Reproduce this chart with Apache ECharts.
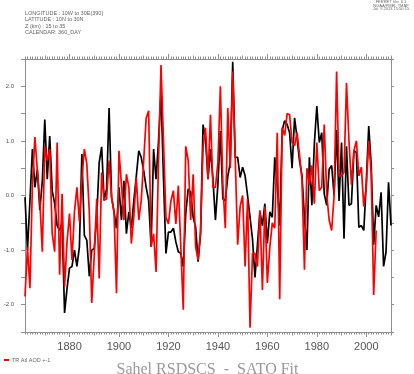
<!DOCTYPE html>
<html><head><meta charset="utf-8">
<script src="https://cdn.jsdelivr.net/npm/echarts@6/dist/echarts.min.js"></script>
<style>html,body{margin:0;padding:0;background:#fff}#c{width:414px;height:374px}</style>
</head><body><div id="c"></div>
<script>
const startYear = 1862;
const endYear = 2010;
// black line (Sahel RSDSCS), one value per year from 1862
const rsdscs = [
 -0.03,-1.0,-0.1,0.85,0.15,0.48,-0.27,0.27,1.39,0.3,
 1.09,0.09,-0.15,-0.55,-0.64,-0.5,-2.15,-1.7,-1.33,-1.3,
 -1.0,-1.3,-0.94,0.76,-0.73,-0.82,-1.48,-1.0,-0.97,-0.4,
 0.6,0.89,-0.09,0.12,1.6,-0.03,-0.3,-0.6,0.15,-0.45,
 0.27,-0.7,-0.3,-0.6,-0.1,0.35,0.82,0.7,0.45,0.15,
 -0.09,-0.94,0.85,0.3,1.0,1.9,0.3,-1.06,-0.67,-0.67,
 -0.6,-0.85,-1.03,-1.06,-1.3,-0.33,0.12,0.06,-0.4,-0.58,
 -1.21,-0.7,1.3,1.03,0.3,0.85,0.3,-0.45,0.2,1.18,
 -0.06,-0.1,0.35,0.6,2.45,0.7,0.7,0.33,0.52,0.36,
 0.0,-0.4,-0.8,-1.5,-0.9,-0.3,-0.55,-0.15,-0.88,-0.3,
 -0.4,0.7,0.2,-0.55,1.2,1.37,1.3,1.15,0.5,1.42,
 1.06,0.64,0.36,-0.4,-1.0,0.7,-0.18,0.94,1.64,0.97,
 1.15,0.03,-0.18,0.48,0.55,0.0,1.2,-0.1,0.97,-0.79,
 0.9,-0.18,-0.15,0.82,0.79,-0.58,-0.55,-0.64,0.24,1.27,
 0.55,-0.9,-0.18,-0.39,0.06,-1.3,-1.03,0.24,-0.55
];
// red line (TR Atl AOD +-1), one value per year from 1862
const trAtlAod = [
 -1.85,-0.95,-1.7,0.2,1.07,0.45,-0.1,-1.03,0.9,0.64,
 0.85,-0.7,-1.03,0.97,-1.45,0.03,-1.67,-0.85,-0.33,-1.18,
 -0.3,0.15,-0.48,0.3,0.85,0.58,-0.3,-1.97,-1.1,-0.06,
 -1.52,0.42,-0.09,-0.06,0.64,-0.03,-0.3,-1.79,0.82,0.2,
 -0.45,0.39,0.15,-0.88,-0.39,0.33,-0.45,-0.09,0.64,1.42,
 1.55,-0.94,-0.7,-1.4,0.64,2.39,1.0,-0.4,-0.52,-0.1,
 0.09,-0.52,0.18,-0.94,-2.09,0.9,0.64,-0.45,0.39,-0.94,
 -1.18,-0.64,0.88,1.24,0.3,1.48,0.15,0.15,0.6,2.0,
 0.2,-0.6,1.6,0.5,2.27,0.7,-0.9,-0.2,0.0,-1.3,
 -0.06,-2.42,-1.06,-1.06,-1.3,-0.27,-1.73,-0.2,-1.6,-0.95,
 -0.5,-0.6,1.15,-1.9,1.24,1.1,1.5,1.48,0.97,0.91,
 1.15,0.75,0.3,-1.36,0.5,0.2,0.55,-0.15,0.97,0.09,
 0.15,1.3,0.03,-0.45,-0.64,0.0,2.27,0.36,0.36,0.42,
 2.06,1.0,0.2,0.82,1.0,0.36,0.52,-0.2,0.15,1.0,
 0.4,-1.82,-0.64
];
const xLabelYears = [1880,1900,1920,1940,1960,1980,2000];
const xMidYears = [1870,1890,1910,1930,1950,1970,1990,2010];
const headerLeft = ['LONGITUDE : 10W to 30E(390)','LATITUDE : 10N to 30N','Z (km) : 15 to 35','CALENDAR: 360_DAY'];
const headerRight = ['FERRET Ver. 6.1','NOAA/PMEL TMAP','Jul  9 2013 15:50:15'];
const titleText = 'Sahel RSDSCS  -  SATO Fit';
const legendName = 'TR Atl AOD +-1';

const everyYear = [];
for (let y = startYear; y <= endYear; y++) everyYear.push(y);
const blackData = rsdscs.map((v, i) => [startYear + i, v]);
const redData = trAtlAod.map((v, i) => [startYear + i, v]);

const axisCol = '#8f8f8f';
const txtCol = '#555';
function xAx(pos, ticks, len, showLine, showLabel) {
  return {
    type: 'value', position: pos, min: startYear, max: endYear,
    axisLine: { show: showLine, onZero: false, lineStyle: { color: axisCol, width: 1 } },
    axisTick: { show: true, customValues: ticks, length: len, inside: false, lineStyle: { color: axisCol, width: 1 } },
    axisLabel: showLabel ? { show: true, customValues: xLabelYears, fontSize: 11, color: txtCol, margin: 9,
      fontFamily: 'Liberation Sans, sans-serif', formatter: v => String(Math.round(v)) } : { show: false },
    splitLine: { show: false }
  };
}
const chart = echarts.init(document.getElementById('c'), null, { renderer: 'canvas' });
const graphics = [];
headerLeft.forEach((t, k) => graphics.push({ type: 'text', left: 25, top: 10 + k * 6.6, style: { text: t, font: '5.5px "Liberation Sans", sans-serif', fill: '#666' } }));
headerRight.forEach((t, k) => graphics.push({ type: 'text', x: 391, y: 0 + k * 3.4, style: { text: t, font: '4px "Liberation Sans", sans-serif', fill: '#666', align: 'center', verticalAlign: 'top' } }));
graphics.push({ type: 'text', x: 207.5, y: 377.5, style: { text: titleText, font: '16px "Liberation Serif", serif', fill: '#9a9a9a', align: 'center', verticalAlign: 'bottom' } });

chart.setOption({
  animation: false,
  backgroundColor: '#fff',
  grid: { left: 25, right: 23, top: 59, bottom: 42, containLabel: false },
  legend: {
    data: [legendName], left: -1, top: 352, icon: 'rect', itemWidth: 5, itemHeight: 2, itemGap: 2,
    textStyle: { fontSize: 5.5, color: '#666', padding: [0, 0, 0, -2] }
  },
  xAxis: [
    xAx('bottom', everyYear, 2.5, true, true),
    xAx('bottom', xMidYears, 3.5, false, false),
    xAx('bottom', xLabelYears, 5, false, false),
    xAx('top', everyYear, 2.5, true, false),
    xAx('top', xMidYears, 3.5, false, false),
    xAx('top', xLabelYears, 5, false, false)
  ],
  yAxis: [
    {
      type: 'value', position: 'left', min: -2.5, max: 2.5, interval: 0.5,
      axisLine: { show: true, onZero: false, lineStyle: { color: axisCol, width: 1 } },
      axisTick: { show: true, length: 4, lineStyle: { color: axisCol } },
      axisLabel: { fontSize: 6, color: txtCol, margin: 11, fontFamily: 'Liberation Sans, sans-serif',
        formatter: v => (Math.abs(v - Math.round(v)) < 1e-9 && Math.abs(v) < 2.4) ? v.toFixed(1) : '' },
      splitLine: { show: false }
    },
    {
      type: 'value', position: 'right', min: -2.5, max: 2.5, interval: 0.5,
      axisLine: { show: true, onZero: false, lineStyle: { color: axisCol, width: 1 } },
      axisTick: { show: true, length: 3, lineStyle: { color: axisCol } },
      axisLabel: { show: false }, splitLine: { show: false }
    }
  ],
  series: [
    { name: 'Sahel RSDSCS', type: 'line', data: blackData, showSymbol: false, symbol: 'none',
      lineStyle: { color: '#000', width: 1.7 }, itemStyle: { color: '#000' } },
    { name: legendName, type: 'line', data: redData, showSymbol: false, symbol: 'none',
      lineStyle: { color: '#ff0000', width: 1.7 }, itemStyle: { color: '#ff0000' } }
  ],
  graphic: graphics
});
</script>
</body></html>
